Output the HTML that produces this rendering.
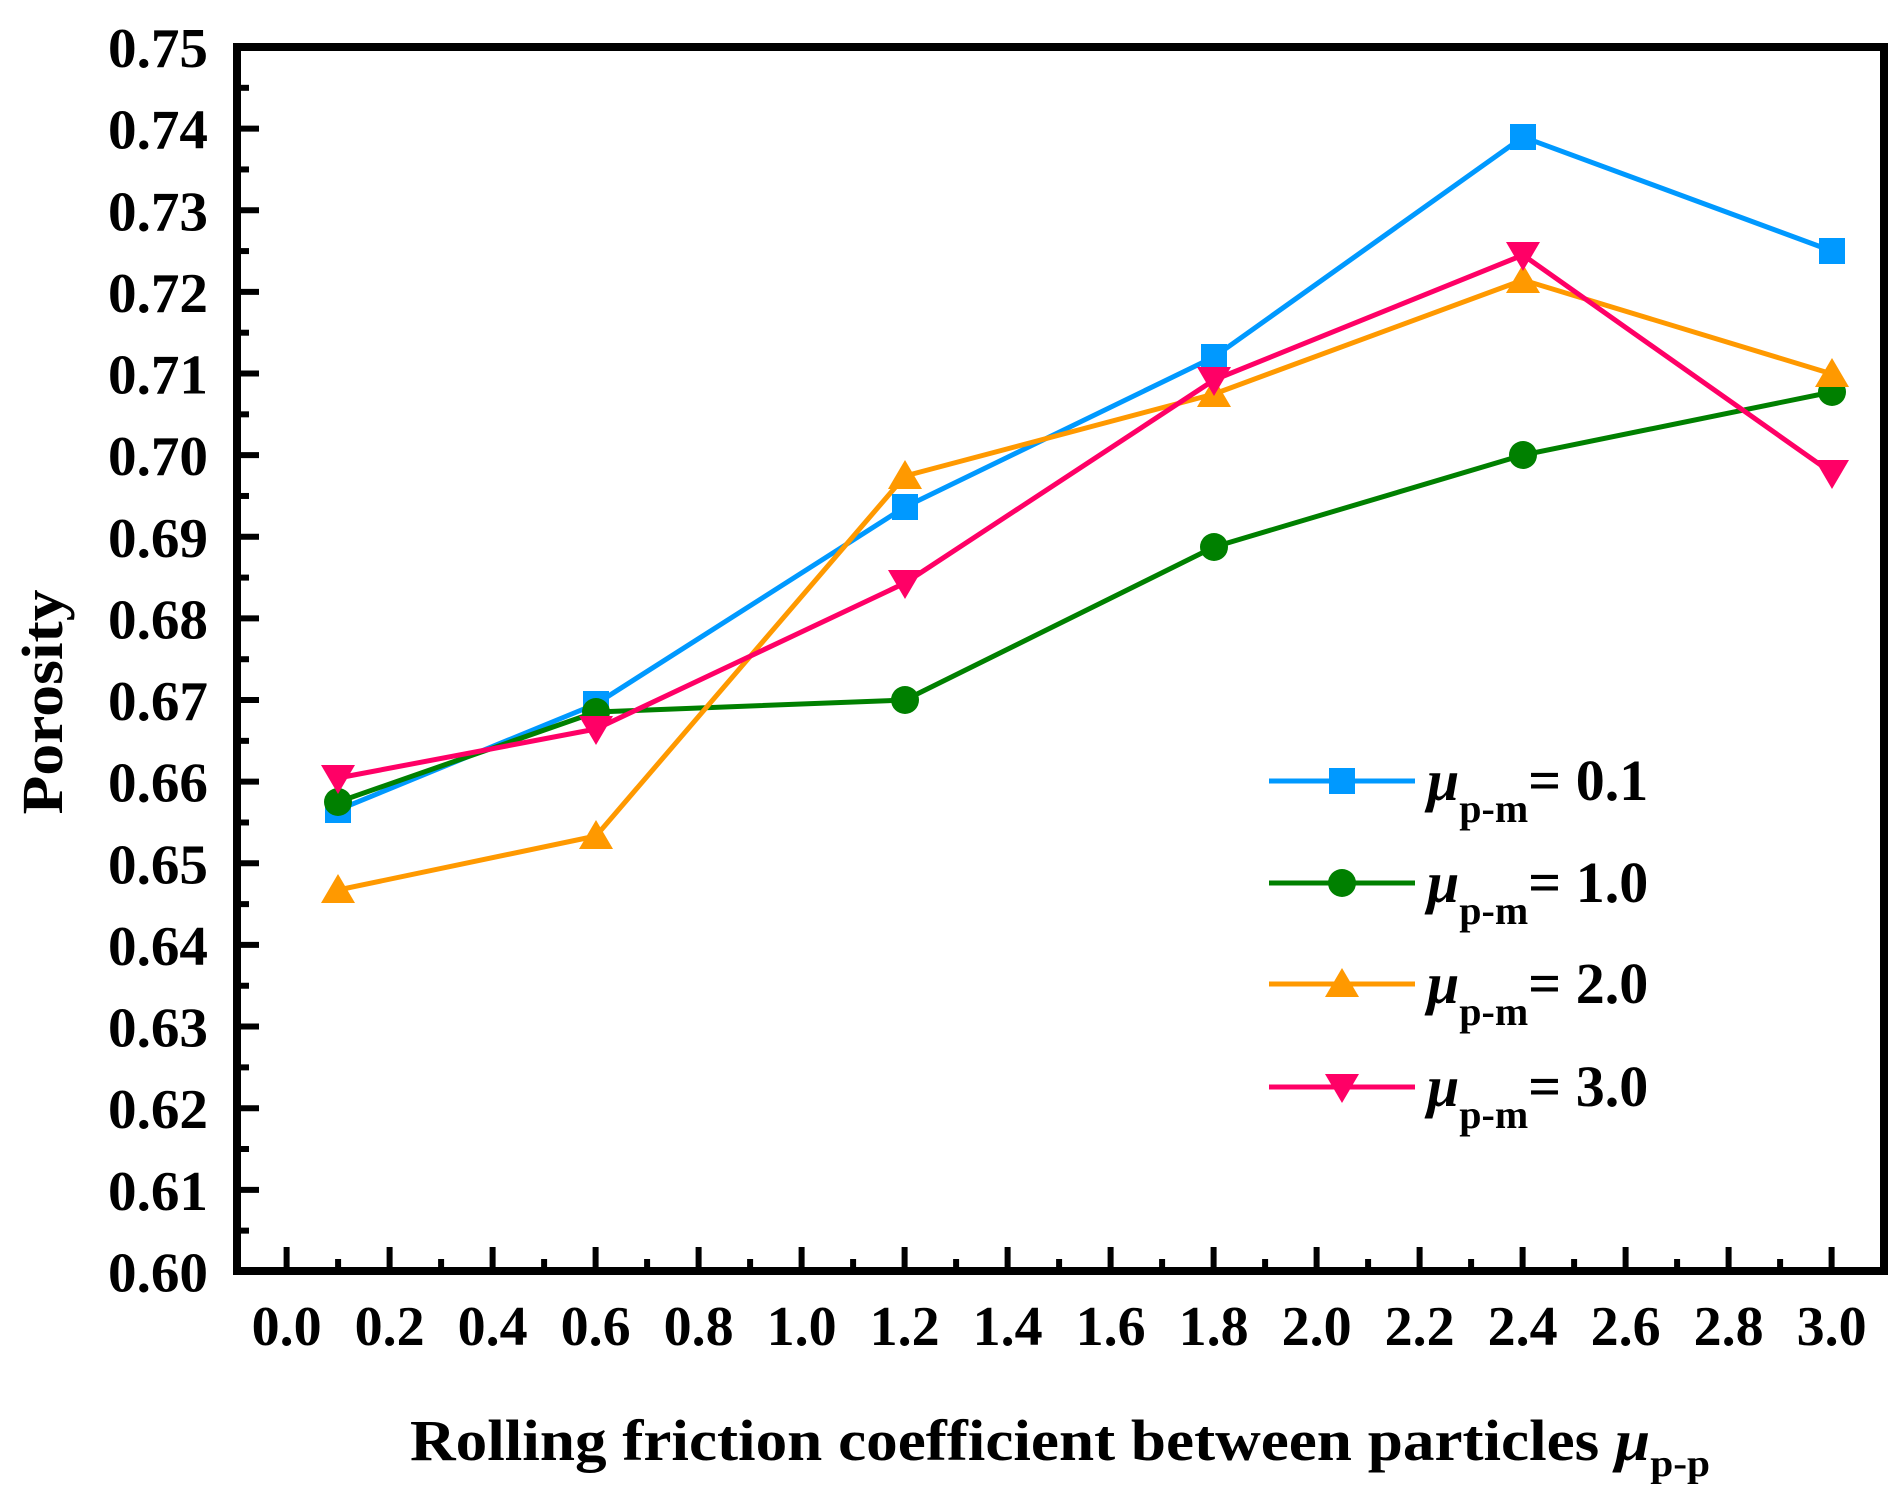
<!DOCTYPE html>
<html><head><meta charset="utf-8"><style>
html,body{margin:0;padding:0;background:#fff;}
svg{display:block;font-family:"Liberation Serif",serif;font-weight:bold;}
</style></head><body>
<svg id="s" width="1904" height="1504" viewBox="0 0 1904 1504" xmlns="http://www.w3.org/2000/svg">
<g id="ticks" stroke="#000" stroke-width="6"></g>
<rect x="237" y="47" width="1647" height="1224" fill="none" stroke="#000" stroke-width="8"/>
<g id="labels" font-size="56" fill="#000"></g>
<text x="1060" y="1460" font-size="58" text-anchor="middle" textLength="1300" lengthAdjust="spacingAndGlyphs">Rolling friction coefficient between particles <tspan font-style="italic">μ</tspan><tspan font-size="38" dy="16">p-p</tspan></text>
<text transform="translate(62,702) rotate(-90)" font-size="58" text-anchor="middle" textLength="225" lengthAdjust="spacingAndGlyphs">Porosity</text>
<g fill="none" stroke-width="5" stroke-linejoin="round">
<polyline stroke="#0099ff" points="338,810 596,704 905,507 1214,357 1523,137 1832,251"/>
<polyline stroke="#008000" points="338,802 596,712 905,700 1214,547 1523,455 1832,392"/>
<polyline stroke="#ff9900" points="338,890 596,836 905,476 1214,394 1523,280 1832,374"/>
<polyline stroke="#ff0066" points="338,778 596,729 905,583 1214,380 1523,255 1832,473"/>
</g>
<g id="marks"></g>
<g stroke-width="5">
<line x1="1269" y1="781" x2="1415" y2="781" stroke="#0099ff"/>
<line x1="1269" y1="883" x2="1415" y2="883" stroke="#008000"/>
<line x1="1269" y1="984" x2="1415" y2="984" stroke="#ff9900"/>
<line x1="1269" y1="1087" x2="1415" y2="1087" stroke="#ff0066"/>
</g>
<g id="legm"></g>
<g font-size="58" fill="#000">
<text x="1427" y="800"><tspan font-style="italic">μ</tspan><tspan font-size="40" dy="22">p-m</tspan><tspan dy="-22">= 0.1</tspan></text>
<text x="1427" y="902"><tspan font-style="italic">μ</tspan><tspan font-size="40" dy="22">p-m</tspan><tspan dy="-22">= 1.0</tspan></text>
<text x="1427" y="1003"><tspan font-style="italic">μ</tspan><tspan font-size="40" dy="22">p-m</tspan><tspan dy="-22">= 2.0</tspan></text>
<text x="1427" y="1106"><tspan font-style="italic">μ</tspan><tspan font-size="40" dy="22">p-m</tspan><tspan dy="-22">= 3.0</tspan></text>
</g>
</svg>
<script>
var NS="http://www.w3.org/2000/svg";
function el(p,t,a,txt){var e=document.createElementNS(NS,t);for(var k in a)e.setAttribute(k,a[k]);if(txt!=null)e.textContent=txt;document.getElementById(p).appendChild(e);return e;}
for(var i=0;i<=30;i++){var y=47+i*40.815;var len=(i%2==0)?22:12;
 if(i>0&&i<30)el("ticks","line",{x1:237,y1:y,x2:237+len,y2:y});
 if(i%2==0){var v=(0.75-i*0.005).toFixed(2);el("labels","text",{x:208,y:y+20,"text-anchor":"end",textLength:100,lengthAdjust:"spacingAndGlyphs"},v);}
}
for(var k=0;k<=30;k++){var x=286.6+k*51.5;var len=(k%2==0)?24:12;
 if(x<1880)el("ticks","line",{x1:x,y1:1271,x2:x,y2:1271-len});
 if(k%2==0){el("labels","text",{x:x,y:1345,"text-anchor":"middle",textLength:70,lengthAdjust:"spacingAndGlyphs"},(k/10).toFixed(1));}
}
var X=[338,596,905,1214,1523,1832];
var S={b:[810,704,507,357,137,251],g:[802,712,700,547,455,392],o:[890,836,476,394,280,374],p:[778,729,583,380,255,473]};
function sq(g,x,y){el(g,"rect",{x:x-13,y:y-13,width:26,height:26,fill:"#0099ff"});}
function ci(g,x,y){el(g,"circle",{cx:x,cy:y,r:14,fill:"#008000"});}
function up(g,x,y){el(g,"polygon",{points:(x-17)+","+(y+13)+" "+(x+17)+","+(y+13)+" "+x+","+(y-16),fill:"#ff9900"});}
function dn(g,x,y){el(g,"polygon",{points:(x-17)+","+(y-13)+" "+(x+17)+","+(y-13)+" "+x+","+(y+16),fill:"#ff0066"});}
for(var i=0;i<6;i++){sq("marks",X[i],S.b[i]);ci("marks",X[i],S.g[i]);up("marks",X[i],S.o[i]);dn("marks",X[i],S.p[i]);}
sq("legm",1342,781);ci("legm",1342,883);up("legm",1342,984);dn("legm",1342,1087);
</script>
</body></html>
